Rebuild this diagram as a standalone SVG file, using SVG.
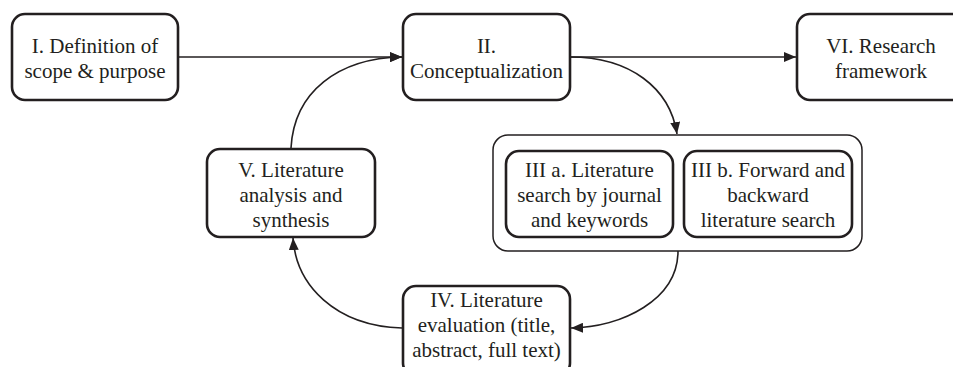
<svg xmlns="http://www.w3.org/2000/svg" width="953" height="367" viewBox="0 0 953 367">
<style>
.node{fill:#fff;stroke:#231f20;stroke-width:2.6}
.outer{fill:#fff;stroke:#231f20;stroke-width:1.5}
.t{font-family:'Liberation Serif',Tinos,'Times New Roman','DejaVu Serif',serif;font-size:21px;fill:#231f20;text-anchor:middle}
.c{fill:none;stroke:#231f20;stroke-width:1.6}
</style>
<defs>
<marker id="ah" viewBox="0 0 12 10" refX="12" refY="5" markerWidth="12" markerHeight="10" markerUnits="userSpaceOnUse" orient="auto">
<path d="M0,0 L12,5 L0,10 Z" fill="#231f20"/>
</marker>
</defs>
<rect width="953" height="367" fill="#fff"/>
<g id="connectors">
<path class="c" d="M178,57 L402,57" marker-end="url(#ah)"/>
<path class="c" d="M570,57 L796,57" marker-end="url(#ah)"/>
<path class="c" d="M570,57 C630,57 670,88 677,134" marker-end="url(#ah)"/>
<path class="c" d="M678,251 C678,300 622,327 571,328" marker-end="url(#ah)"/>
<path class="c" d="M402,328 C335,326 296,285 293,238" marker-end="url(#ah)"/>
<path class="c" d="M291,148 C294,92 338,58 402,57" marker-end="url(#ah)"/>
</g>
<g id="nodeI">
<rect class="node" x="12" y="14" width="166" height="86" rx="13"/>
<text class="t" x="95" y="53">I. Definition of</text>
<text class="t" x="95" y="78">scope &amp; purpose</text>
</g>
<g id="nodeII">
<rect class="node" x="403" y="14" width="167" height="86" rx="13"/>
<text class="t" x="486.5" y="53">II.</text>
<text class="t" x="486.5" y="78">Conceptualization</text>
</g>
<g id="nodeVI">
<rect class="node" x="797" y="14" width="170" height="86" rx="13"/>
<text class="t" x="881" y="53">VI. Research</text>
<text class="t" x="881" y="78">framework</text>
</g>
<g id="nodeIII">
<rect class="outer" x="493" y="135" width="369" height="116" rx="15"/>
<g id="nodeIIIa">
<rect class="node" x="506" y="151" width="167" height="86" rx="13"/>
<text class="t" x="589.5" y="177">III a. Literature</text>
<text class="t" x="589.5" y="202">search by journal</text>
<text class="t" x="589.5" y="227">and keywords</text>
</g>
<g id="nodeIIIb">
<rect class="node" x="684" y="151" width="168" height="86" rx="13"/>
<text class="t" x="768" y="177">III b. Forward and</text>
<text class="t" x="768" y="202">backward</text>
<text class="t" x="768" y="227">literature search</text>
</g>
</g>
<g id="nodeV">
<rect class="node" x="207" y="149" width="168" height="88" rx="13"/>
<text class="t" x="291" y="177">V. Literature</text>
<text class="t" x="291" y="202">analysis and</text>
<text class="t" x="291" y="227">synthesis</text>
</g>
<g id="nodeIV">
<rect class="node" x="403" y="286" width="167" height="90" rx="13"/>
<text class="t" x="486.5" y="307">IV. Literature</text>
<text class="t" x="486.5" y="332">evaluation (title,</text>
<text class="t" x="486.5" y="357">abstract, full text)</text>
</g>
</svg>
